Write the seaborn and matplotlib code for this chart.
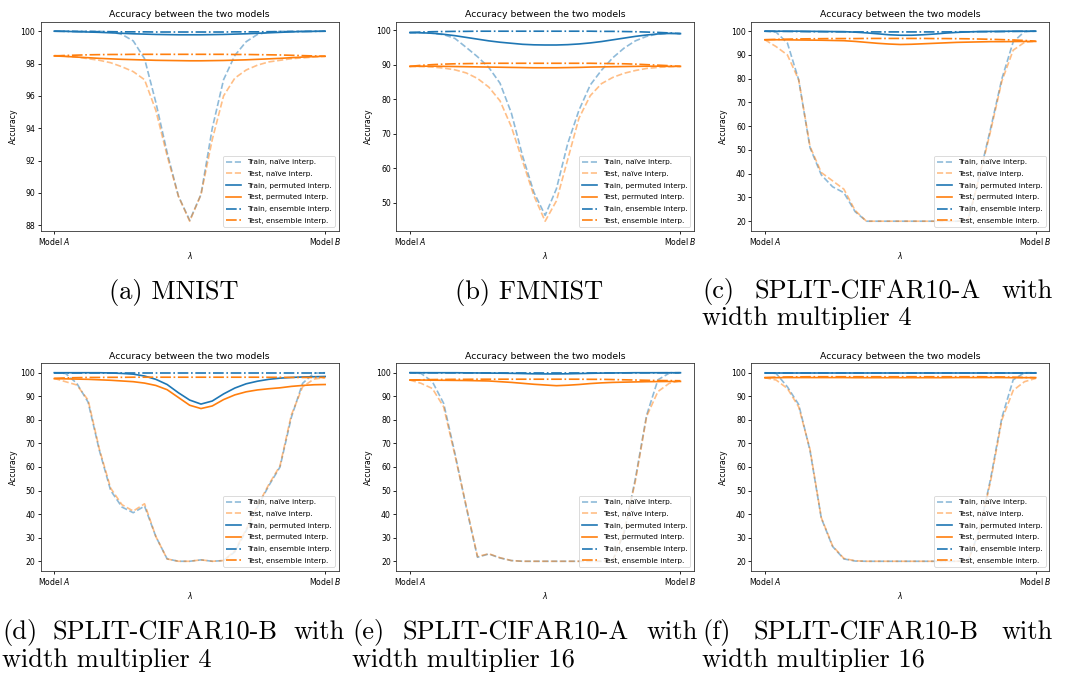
import numpy as np
import matplotlib
matplotlib.use("Agg")
import matplotlib.pyplot as plt
import seaborn as sns

# interpolation coefficient between model A (0) and model B (1)
lambdas = np.linspace(0, 1, 25)

# ---------------- MNIST ----------------
mnist_train_naive = [100.0, 100.0, 100.0, 100.0, 99.99, 99.96, 99.8, 99.4, 98.3, 95.6, 92.5, 89.8, 88.3,
                     89.9, 94.0, 97.0, 98.5, 99.35, 99.8, 99.95, 99.99, 100.0, 100.0, 100.0, 100.0]
mnist_test_naive = [98.5, 98.45, 98.4, 98.3, 98.2, 98.05, 97.8, 97.5, 97.0, 95.1, 92.3, 89.8, 88.25,
                    89.9, 93.3, 96.0, 97.1, 97.6, 97.9, 98.1, 98.2, 98.3, 98.35, 98.4, 98.45]
mnist_train_perm = [100.0, 99.99, 99.97, 99.95, 99.93, 99.9, 99.87, 99.84, 99.82, 99.8, 99.79, 99.78, 99.78,
                    99.78, 99.79, 99.8, 99.82, 99.84, 99.87, 99.9, 99.93, 99.96, 99.98, 99.99, 100.0]
mnist_test_perm = [98.47, 98.44, 98.4, 98.36, 98.32, 98.29, 98.26, 98.24, 98.22, 98.2, 98.19, 98.18, 98.17,
                   98.17, 98.18, 98.19, 98.21, 98.23, 98.26, 98.29, 98.32, 98.36, 98.4, 98.43, 98.45]
mnist_train_ens = [100.0, 99.99, 99.98, 99.98, 99.97, 99.97, 99.96, 99.96, 99.96, 99.95, 99.95, 99.95, 99.95,
                   99.95, 99.95, 99.95, 99.96, 99.96, 99.96, 99.97, 99.97, 99.98, 99.98, 99.99, 100.0]
mnist_test_ens = [98.47, 98.5, 98.52, 98.54, 98.55, 98.56, 98.56, 98.57, 98.57, 98.57, 98.57, 98.57, 98.57,
                  98.57, 98.57, 98.57, 98.56, 98.56, 98.55, 98.54, 98.53, 98.51, 98.49, 98.47, 98.45]

# ---------------- FMNIST ----------------
fmnist_train_naive = [99.3, 99.25, 99.1, 98.7, 97.6, 95.0, 92.3, 89.2, 84.6, 76.0, 63.5, 53.0, 46.3,
                      54.0, 67.1, 76.8, 84.1, 88.4, 92.0, 94.8, 96.9, 98.2, 98.9, 99.1, 99.0]
fmnist_test_naive = [89.5, 89.45, 89.3, 89.0, 88.5, 87.6, 86.0, 83.5, 79.5, 72.0, 62.0, 52.0, 44.6,
                     50.5, 62.5, 74.5, 81.0, 84.5, 86.3, 87.5, 88.3, 88.9, 89.2, 89.4, 89.5]
fmnist_train_perm = [99.3, 99.25, 99.1, 98.8, 98.4, 97.9, 97.4, 96.9, 96.5, 96.2, 95.9, 95.75, 95.7,
                     95.7, 95.8, 96.0, 96.3, 96.7, 97.2, 97.7, 98.2, 98.6, 98.9, 99.05, 99.0]
fmnist_test_perm = [89.5, 89.55, 89.55, 89.5, 89.45, 89.4, 89.35, 89.3, 89.25, 89.2, 89.15, 89.1, 89.1,
                    89.1, 89.15, 89.2, 89.3, 89.35, 89.4, 89.45, 89.5, 89.55, 89.55, 89.5, 89.5]
fmnist_train_ens = [99.3, 99.45, 99.55, 99.6, 99.65, 99.65, 99.7, 99.7, 99.7, 99.7, 99.7, 99.7, 99.7,
                    99.7, 99.7, 99.7, 99.7, 99.65, 99.65, 99.6, 99.55, 99.45, 99.35, 99.2, 99.0]
fmnist_test_ens = [89.5, 89.8, 90.0, 90.15, 90.25, 90.3, 90.35, 90.4, 90.4, 90.4, 90.4, 90.4, 90.4,
                   90.4, 90.4, 90.4, 90.4, 90.35, 90.3, 90.25, 90.15, 90.0, 89.85, 89.7, 89.5]

# ---------------- SPLIT-CIFAR10-A, width x4 ----------------
c10a4_train_naive = [100.0, 99.6, 95.0, 79.5, 51.0, 39.5, 34.5, 32.0, 24.0, 20.0, 20.0, 20.0, 20.0,
                     20.0, 20.0, 20.0, 20.0, 20.0, 20.3, 39.0, 59.0, 80.0, 95.5, 99.8, 100.0]
c10a4_test_naive = [96.4, 93.5, 90.0, 79.5, 51.5, 40.5, 37.0, 33.5, 24.5, 20.0, 20.0, 20.0, 20.0,
                    20.0, 20.0, 20.0, 20.0, 20.0, 20.4, 38.5, 58.0, 79.0, 92.0, 95.3, 95.8]
c10a4_train_perm = [100.0, 100.0, 100.0, 100.0, 99.95, 99.9, 99.85, 99.8, 99.6, 99.3, 98.9, 98.5, 98.3,
                    98.3, 98.5, 98.8, 99.2, 99.5, 99.7, 99.85, 99.9, 99.95, 100.0, 100.0, 100.0]
c10a4_test_perm = [96.4, 96.4, 96.35, 96.3, 96.25, 96.2, 96.1, 96.0, 95.7, 95.3, 94.9, 94.6, 94.4,
                   94.5, 94.7, 94.9, 95.1, 95.3, 95.4, 95.5, 95.6, 95.6, 95.65, 95.7, 95.7]
c10a4_train_ens = [100.0, 99.95, 99.9, 99.85, 99.8, 99.8, 99.75, 99.75, 99.7, 99.7, 99.7, 99.7, 99.7,
                   99.7, 99.7, 99.7, 99.7, 99.75, 99.75, 99.8, 99.8, 99.85, 99.9, 99.95, 100.0]
c10a4_test_ens = [96.4, 96.55, 96.65, 96.75, 96.8, 96.85, 96.9, 96.9, 96.9, 96.95, 96.95, 96.95, 96.95,
                  96.95, 96.95, 96.9, 96.9, 96.85, 96.8, 96.7, 96.6, 96.45, 96.3, 96.1, 95.8]

# ---------------- SPLIT-CIFAR10-B, width x4 ----------------
c10b4_train_naive = [100.0, 99.7, 95.5, 87.5, 67.0, 50.0, 43.0, 40.6, 43.4, 30.5, 21.0, 20.0, 20.0,
                     20.6, 20.0, 20.3, 24.0, 33.0, 43.0, 52.0, 60.0, 81.0, 95.5, 99.8, 100.0]
c10b4_test_naive = [97.6, 96.2, 94.8, 88.4, 67.5, 51.0, 44.0, 41.3, 44.4, 30.5, 21.0, 20.0, 20.0,
                    20.6, 20.0, 20.3, 24.5, 33.5, 43.5, 52.5, 60.5, 82.0, 94.0, 97.3, 97.9]
c10b4_train_perm = [100.0, 100.0, 100.0, 100.0, 100.0, 99.9, 99.7, 99.4, 98.6, 97.2, 95.0, 91.5, 88.4,
                    86.7, 88.0, 91.0, 93.5, 95.3, 96.4, 97.2, 97.7, 98.0, 98.2, 98.3, 98.4]
c10b4_test_perm = [97.5, 97.4, 97.3, 97.2, 97.0, 96.8, 96.5, 96.2, 95.6, 94.6, 92.8, 89.5, 86.2,
                   84.8, 85.9, 88.6, 90.6, 91.9, 92.7, 93.2, 93.6, 94.2, 94.6, 94.9, 95.0]
c10b4_train_ens = [100.0, 100.0, 100.0, 100.0, 100.0, 100.0, 100.0, 100.0, 100.0, 100.0, 100.0, 100.0, 100.0,
                   100.0, 100.0, 100.0, 100.0, 100.0, 100.0, 100.0, 100.0, 100.0, 100.0, 100.0, 100.0]
c10b4_test_ens = [97.6, 97.8, 97.9, 98.0, 98.0, 98.05, 98.05, 98.1, 98.1, 98.1, 98.1, 98.1, 98.1,
                  98.1, 98.1, 98.1, 98.1, 98.1, 98.1, 98.05, 98.05, 98.0, 98.0, 98.0, 98.0]

# ---------------- SPLIT-CIFAR10-A, width x16 ----------------
c10a16_train_naive = [100.0, 99.7, 96.2, 87.0, 65.7, 43.0, 21.7, 23.1, 21.4, 20.3, 20.0, 20.0, 20.0,
                      20.0, 20.0, 20.0, 20.0, 20.0, 20.3, 32.0, 55.0, 82.0, 97.0, 99.8, 100.0]
c10a16_test_naive = [96.9, 95.5, 93.3, 85.5, 65.0, 43.5, 22.0, 23.2, 21.5, 20.3, 20.0, 20.0, 20.0,
                     20.0, 20.0, 20.0, 20.0, 20.0, 20.3, 32.5, 54.0, 81.5, 92.0, 95.5, 96.6]
c10a16_train_perm = [100.0, 100.0, 100.0, 100.0, 100.0, 99.95, 99.9, 99.85, 99.8, 99.75, 99.65, 99.55, 99.5,
                     99.5, 99.55, 99.65, 99.75, 99.85, 99.9, 99.95, 100.0, 100.0, 100.0, 100.0, 100.0]
c10a16_test_perm = [96.9, 96.9, 96.85, 96.8, 96.75, 96.7, 96.6, 96.5, 96.2, 95.9, 95.5, 95.1, 94.8,
                    94.5, 94.7, 95.0, 95.4, 95.7, 95.9, 96.0, 96.1, 96.2, 96.25, 96.3, 96.3]
c10a16_train_ens = [100.0, 99.98, 99.96, 99.95, 99.94, 99.93, 99.92, 99.92, 99.9, 99.9, 99.9, 99.9, 99.9,
                    99.9, 99.9, 99.9, 99.9, 99.92, 99.92, 99.93, 99.94, 99.95, 99.96, 99.98, 100.0]
c10a16_test_ens = [96.9, 97.0, 97.1, 97.15, 97.2, 97.2, 97.25, 97.25, 97.25, 97.25, 97.25, 97.25, 97.25,
                   97.25, 97.25, 97.25, 97.2, 97.2, 97.1, 97.0, 96.9, 96.8, 96.7, 96.65, 96.6]

# ---------------- SPLIT-CIFAR10-B, width x16 ----------------
c10b16_train_naive = [100.0, 99.7, 94.0, 86.5, 67.0, 38.3, 26.3, 21.0, 20.1, 20.0, 20.0, 20.0, 20.0,
                      20.0, 20.0, 20.0, 20.0, 20.0, 20.2, 33.0, 55.0, 81.0, 97.0, 100.0, 100.0]
c10b16_test_naive = [97.9, 96.9, 93.3, 85.5, 67.5, 38.5, 26.5, 21.2, 20.2, 20.0, 20.0, 20.0, 20.0,
                     20.0, 20.0, 20.0, 20.0, 20.0, 20.2, 32.5, 54.0, 80.0, 92.5, 96.2, 97.6]
c10b16_train_perm = [100.0, 100.0, 100.0, 100.0, 100.0, 100.0, 100.0, 100.0, 100.0, 100.0, 100.0, 100.0, 100.0,
                     100.0, 100.0, 100.0, 100.0, 100.0, 100.0, 100.0, 100.0, 100.0, 100.0, 100.0, 100.0]
c10b16_test_perm = [97.9, 97.9, 97.95, 97.95, 97.95, 97.95, 97.95, 97.95, 97.9, 97.9, 97.9, 97.9, 97.9,
                    97.9, 97.9, 97.9, 97.9, 97.95, 97.95, 97.95, 97.95, 97.95, 97.9, 97.9, 97.9]
c10b16_train_ens = [100.0, 100.0, 100.0, 100.0, 100.0, 100.0, 100.0, 100.0, 100.0, 100.0, 100.0, 100.0, 100.0,
                    100.0, 100.0, 100.0, 100.0, 100.0, 100.0, 100.0, 100.0, 100.0, 100.0, 100.0, 100.0]
c10b16_test_ens = [97.9, 98.1, 98.2, 98.25, 98.3, 98.3, 98.3, 98.3, 98.3, 98.3, 98.3, 98.3, 98.3,
                   98.3, 98.3, 98.3, 98.3, 98.3, 98.3, 98.3, 98.25, 98.2, 98.1, 98.0, 97.9]

series_labels = ["Train, na\u00efve interp.", "Test, na\u00efve interp.",
                 "Train, permuted interp.", "Test, permuted interp.",
                 "Train, ensemble interp.", "Test, ensemble interp."]
x_tick_labels = ["Model $A$", "Model $B$"]
mnist_yticks = [88, 90, 92, 94, 96, 98, 100]
fmnist_yticks = [50, 60, 70, 80, 90, 100]
cifar_yticks = [20, 30, 40, 50, 60, 70, 80, 90, 100]

panels = [
    dict(data=[mnist_train_naive, mnist_test_naive, mnist_train_perm, mnist_test_perm,
               mnist_train_ens, mnist_test_ens], yticks=mnist_yticks),
    dict(data=[fmnist_train_naive, fmnist_test_naive, fmnist_train_perm, fmnist_test_perm,
               fmnist_train_ens, fmnist_test_ens], yticks=fmnist_yticks),
    dict(data=[c10a4_train_naive, c10a4_test_naive, c10a4_train_perm, c10a4_test_perm,
               c10a4_train_ens, c10a4_test_ens], yticks=cifar_yticks),
    dict(data=[c10b4_train_naive, c10b4_test_naive, c10b4_train_perm, c10b4_test_perm,
               c10b4_train_ens, c10b4_test_ens], yticks=cifar_yticks),
    dict(data=[c10a16_train_naive, c10a16_test_naive, c10a16_train_perm, c10a16_test_perm,
               c10a16_train_ens, c10a16_test_ens], yticks=cifar_yticks),
    dict(data=[c10b16_train_naive, c10b16_test_naive, c10b16_train_perm, c10b16_test_perm,
               c10b16_train_ens, c10b16_test_ens], yticks=cifar_yticks),
]

# line styles: (colour, linestyle, alpha)
styles = [("tab:blue", "--", 0.5), ("tab:orange", "--", 0.5),
          ("tab:blue", "-", 1.0), ("tab:orange", "-", 1.0),
          ("tab:blue", "-.", 1.0), ("tab:orange", "-.", 1.0)]

# each panel is a small (~355 px wide) figure, so everything is scaled down
s = 0.555
plt.rcParams.update({
    "font.size": 10 * s,
    "axes.titlesize": 12 * s,
    "axes.titlepad": 6 * s,
    "axes.labelpad": 4 * s,
    "axes.linewidth": 0.6,
    "axes.edgecolor": "#333333",
    "lines.linewidth": 1.2,
    "patch.linewidth": 0.6,
    "legend.fontsize": 5.35,
    "legend.labelspacing": 0.75,
    "xtick.major.size": 3.5 * s, "ytick.major.size": 3.5 * s,
    "xtick.major.width": 0.6, "ytick.major.width": 0.6,
    "xtick.major.pad": 3.5 * s, "ytick.major.pad": 3.5 * s,
})

W, H = 1065, 681
fig = plt.figure(figsize=(W / 100, H / 100), dpi=100)

col_edges = [(40.7, 338.7), (396.3, 694.0), (751.3, 1049.3)]
row_edges = [(21.7, 230.7), (363.3, 570.7)]

for k, panel in enumerate(panels):
    r, c = divmod(k, 3)
    x0, x1 = col_edges[c]
    y0, y1 = row_edges[r]
    ax = fig.add_axes([x0 / W, 1 - y1 / H, (x1 - x0) / W, (y1 - y0) / H])
    for vals, label, (col, ls, a) in zip(panel["data"], series_labels, styles):
        sns.lineplot(x=lambdas, y=vals, ax=ax, color=col, linestyle=ls, alpha=a, label=label)
    ax.set_xticks([0, 1])
    ax.set_xticklabels(x_tick_labels)
    ax.set_yticks(panel["yticks"])
    ax.set_xlabel(r"$\lambda$")
    ax.set_ylabel("Accuracy")
    ax.set_title("Accuracy between the two models")
    ax.legend(loc="lower right")

# sub-figure captions
cap = dict(fontfamily="cmr10", fontsize=19, va="baseline")
fig.text(174 / W, 1 - 299 / H, "(a) MNIST", ha="center", **cap)
fig.text(529 / W, 1 - 299 / H, "(b) FMNIST", ha="center", **cap)

renderer = fig.canvas.get_renderer()


def justified_line(words, left, right, base):
    texts = [fig.text(0, 0, w, ha="left", **cap) for w in words]
    widths = [t.get_window_extent(renderer).width for t in texts]
    gap = (right - left - sum(widths)) / (len(words) - 1)
    x = left
    for t, w in zip(texts, widths):
        t.set_position((x / W, 1 - base / H))
        x += w + gap


captions = [
    ("(c)", "SPLIT-CIFAR10-A", "width multiplier 4", 702, 1053, 298, 325),
    ("(d)", "SPLIT-CIFAR10-B", "width multiplier 4", 2, 345, 639, 667),
    ("(e)", "SPLIT-CIFAR10-A", "width multiplier 16", 352, 698, 639, 667),
    ("(f)", "SPLIT-CIFAR10-B", "width multiplier 16", 702, 1053, 639, 667),
]
for tag, name, second, left, right, b1, b2 in captions:
    justified_line([tag, name, "with"], left, right, b1)
    fig.text(left / W, 1 - b2 / H, second, ha="left", **cap)

fig.savefig("out.png", dpi=100)
